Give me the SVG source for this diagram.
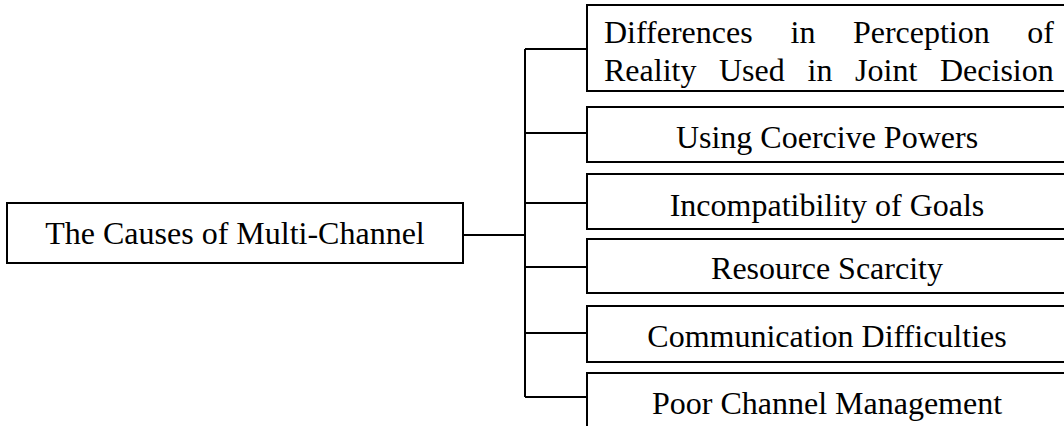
<svg xmlns="http://www.w3.org/2000/svg" width="1064" height="426" viewBox="0 0 1064 426">
<style>
.box{fill:#fff;stroke:#000;stroke-width:2}
.ln{fill:none;stroke:#000;stroke-width:2}
.t{font-family:"Liberation Serif","Times New Roman",serif;font-size:32px;fill:#000}
.c{text-anchor:middle}
</style>
<rect width="1064" height="426" fill="#fff"/>
<g id="connectors">
<path class="ln" d="M463,235H525M525,49V397M525,49H587M525,133H587M525,203H587M525,267H587M525,333H587M525,397H587"/>
</g>
<g id="root">
<rect class="box" x="7" y="203" width="456" height="60"/>
<text class="t c" x="235" y="244">The Causes of Multi-Channel</text>
</g>
<g id="n1">
<rect class="box" x="587" y="5" width="482" height="86"/>
<text class="t" y="43"><tspan x="604">Differences</tspan><tspan x="790.6">in</tspan><tspan x="852.9">Perception</tspan><tspan x="1027.2">of</tspan></text>
<text class="t" y="81"><tspan x="604">Reality</tspan><tspan x="719">Used</tspan><tspan x="807.5">in</tspan><tspan x="855.1">Joint</tspan><tspan x="940">Decision</tspan></text>
</g>
<g id="n2">
<rect class="box" x="587" y="107" width="482" height="55"/>
<text class="t c" x="827" y="148">Using Coercive Powers</text>
</g>
<g id="n3">
<rect class="box" x="587" y="174" width="482" height="55"/>
<text class="t c" x="827" y="216">Incompatibility of Goals</text>
</g>
<g id="n4">
<rect class="box" x="587" y="239" width="482" height="54"/>
<text class="t c" x="827" y="279">Resource Scarcity</text>
</g>
<g id="n5">
<rect class="box" x="587" y="306" width="482" height="56"/>
<text class="t c" x="827" y="347">Communication Difficulties</text>
</g>
<g id="n6">
<rect class="box" x="587" y="373" width="482" height="60"/>
<text class="t c" x="827" y="414">Poor Channel Management</text>
</g>
</svg>
